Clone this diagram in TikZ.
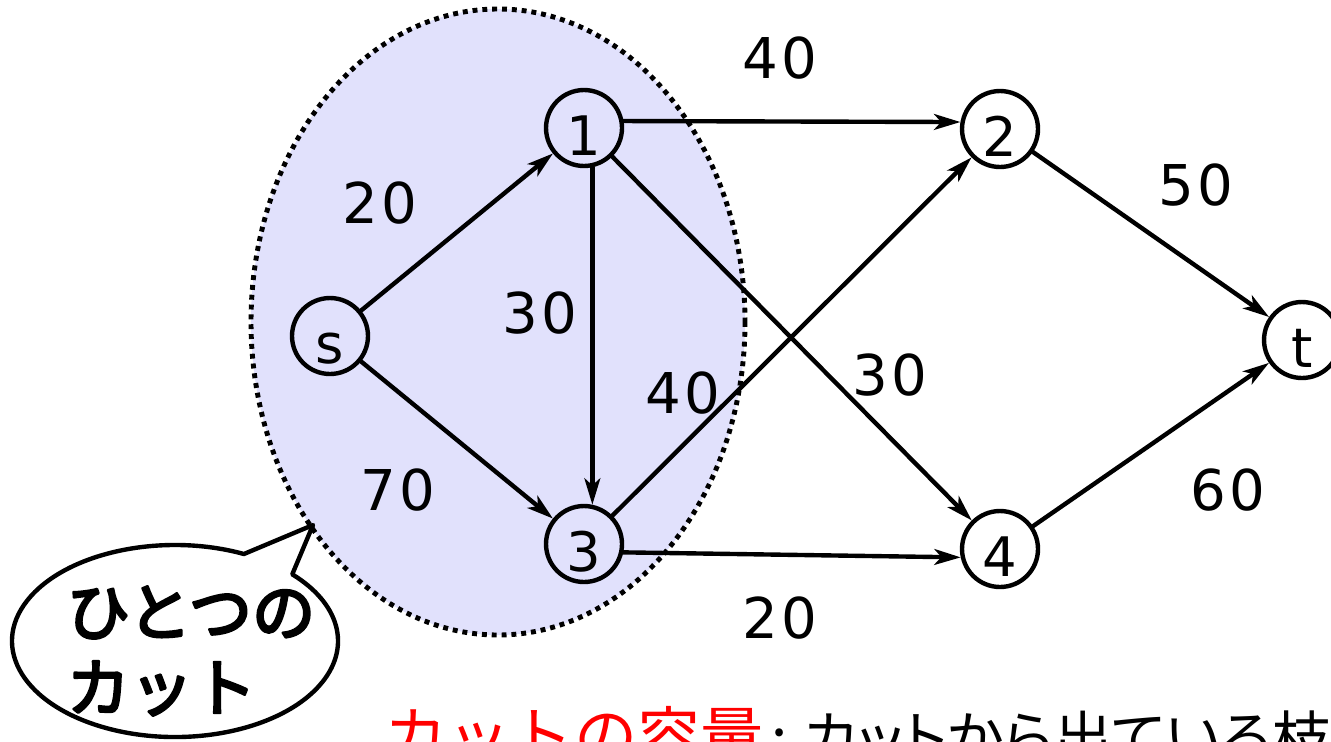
\documentclass[tikz,border=0pt]{standalone}
\usepackage{fontspec}
\setmainfont{Noto Sans CJK JP}
\newfontfamily\numfont{DejaVu Sans}[LetterSpace=6]
\newfontfamily\jpprop{Noto Sans CJK JP}[RawFeature=+palt]
\newfontfamily\jpheavy{Noto Sans CJK JP}[FakeBold=4]
\usetikzlibrary{arrows.meta}
\definecolor{cutfill}{RGB}{225,225,252}

\begin{document}
\begin{tikzpicture}[x=0.02cm,y=-0.02cm,>={Stealth[length=15pt,width=9pt,inset=4pt]},line cap=round,line join=round,
  vertex/.style={circle,draw,line width=2.5pt,minimum size=1.52cm,inner sep=0pt,
    text height=1.1cm,text depth=0pt,font=\numfont\fontsize{31}{31}\selectfont},
  weight/.style={font=\numfont\fontsize{32}{32}\selectfont},
  edge/.style={->,line width=2.5pt}]
  \useasboundingbox (0,0) rectangle (1331,741);

  % the cut
  \fill[cutfill] (498,322) ellipse[x radius=247,y radius=313];
  \draw[line width=2.8pt,line cap=butt,dash pattern=on 2.8pt off 2.8pt]
    (498,322) ellipse[x radius=247,y radius=313];

  % vertices
  \node[vertex] (s)  at (330,336)  {s};
  \node[vertex] (n1) at (584,128)  {1};
  \node[vertex] (n2) at (1000,129) {2};
  \node[vertex] (n3) at (584,544)  {3};
  \node[vertex] (n4) at (1000,549) {4};
  \node[vertex] (t)  at (1302,340) {t};

  % edges
  \draw[edge] (s) -- (n1);
  \draw[edge] (s) -- (n3);
  \draw[edge] (n1.10) -- (n2.170);
  \draw[edge] (n1.-78) -- (n3.78);
  \draw[edge] (n1) -- (n4);
  \draw[edge] (n3) -- (n2);
  \draw[edge] (n3.-12) -- (n4.-168);
  \draw[edge] (n2) -- (t);
  \draw[edge] (n4) -- (t);

  % capacities
  \node[weight] (w12) at (780,58)  {40};
  \node[weight] (ws1) at (380,203) {20};
  \node[weight] (w13) at (540,313) {30};
  \node[weight] (w32) at (683,393) {40};
  \node[weight] (w14) at (890,375) {30};
  \node[weight] (w2t) at (1196,185) {50};
  \node[weight] (w4t) at (1228,490) {60};
  \node[weight] (ws3) at (398,490) {70};
  \node[weight] (w34) at (780,618) {20};

  % callout
  \draw[line width=2.5pt,fill=white]
    (243.9,554) arc[start angle=-65,end angle=-404,x radius=163,y radius=96]
    -- (313,525) -- cycle;
  \node[align=left,font=\jpheavy\fontsize{36}{43}\selectfont] (calltext) at (191,651) {ひとつの\\カット};

  % caption
  \node[anchor=base west,inner sep=0pt,font=\fontsize{36}{36}\selectfont] (caption) at (384,759)
    {\textcolor{red}{カットの容量}{\jpprop\fontsize{33}{33}\selectfont\hspace{4.5pt}:\hspace{9pt}カットから出ている枝の容量の和}};
\end{tikzpicture}
\end{document}
